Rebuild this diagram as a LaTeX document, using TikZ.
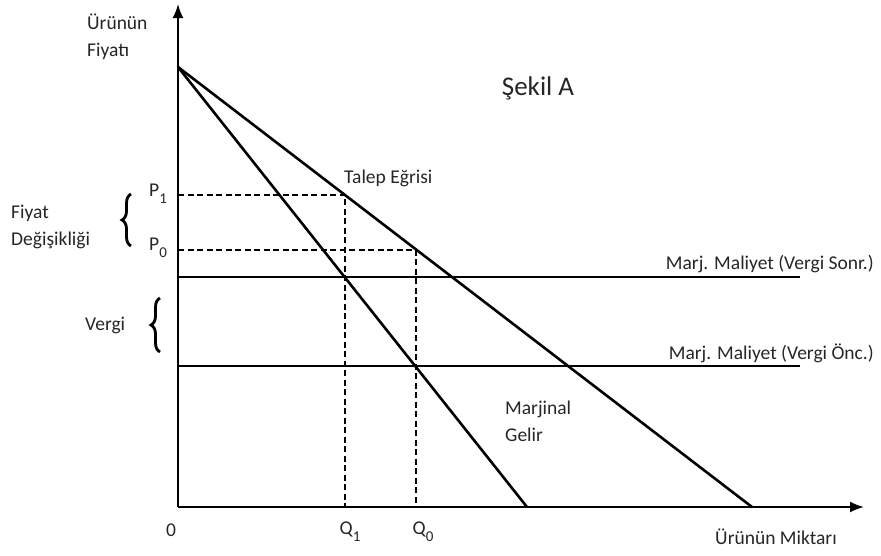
\documentclass[tikz,border=0pt]{standalone}
\usepackage{fontspec}
\setmainfont{Carlito}
\usetikzlibrary{arrows.meta,decorations.pathreplacing}
\newcommand{\sbs}[1]{\raisebox{-7pt}{\fontsize{15}{16}\selectfont #1}}
\begin{document}
\begin{tikzpicture}[x=1pt,y=-1pt,
  lbl/.style={font=\fontsize{19.5}{27}\selectfont, text=black!85, inner sep=0pt, align=left},
  curve/.style={line width=2.6pt, line cap=round},
  axis/.style={line width=2pt, -{Latex[length=14pt,width=11pt]}},
  guide/.style={line width=1.8pt, dash pattern=on 6pt off 3.5pt},
  br/.style={decorate, decoration={brace, amplitude=9pt}, line width=2.8pt}]
\useasboundingbox (0,0) rectangle (881,555);
% coordinates
\coordinate (O) at (178,507);
\coordinate (ytop) at (178,4);
\coordinate (xend) at (864,507);
\coordinate (A) at (178,67);
\coordinate (D) at (752,507);
\coordinate (M) at (527,507);
\coordinate (P1) at (178,195);
\coordinate (P0) at (178,250);
\coordinate (E1) at (345,195);
\coordinate (E0) at (416,250);
\coordinate (Q1) at (345,507);
\coordinate (Q0) at (416,507);
\coordinate (Sa) at (178,277);
\coordinate (Sb) at (800,277);
\coordinate (Ta) at (178,366);
\coordinate (Tb) at (800,366);
% axes
\draw[axis] (O) -- (ytop);
\draw[axis] (O) -- (xend);
% guides
\draw[guide] (P1) -- (E1) -- (Q1);
\draw[guide] (P0) -- (E0) -- (Q0);
% curves
\draw[curve] (A) -- (D);
\draw[curve] (A) -- (M);
\draw[line width=2.2pt] (Sa) -- (Sb);
\draw[line width=2.2pt] (Ta) -- (Tb);
% braces
\coordinate (b1a) at (131,246);
\coordinate (b1b) at (131,194);
\coordinate (b2a) at (160,352);
\coordinate (b2b) at (160,298);
\draw[br] (b1a) -- (b1b);
\draw[br] (b2a) -- (b2b);
% labels
\node[lbl, anchor=west] (yl) at (87,37) {Ürünün\\Fiyatı};
\node[lbl, anchor=center, font=\fontsize{27}{30}\selectfont] (title) at (538,88) {Şekil A};
\node[lbl, anchor=west] (talep) at (344,178) {Talep Eğrisi};
\node[lbl, anchor=west] (fd) at (11,227) {Fiyat\\Değişikliği};
\node[lbl, anchor=west] (p1) at (149,194) {P\sbs{1}};
\node[lbl, anchor=west] (p0) at (149,248) {P\sbs{0}};
\node[lbl, anchor=west] (vergi) at (85,325) {Vergi};
\node[lbl, anchor=east] (mcs) at (874,264) {Marj. Maliyet (Vergi Sonr.)};
\node[lbl, anchor=east] (mco) at (874,353) {Marj. Maliyet (Vergi Önc.)};
\node[lbl, anchor=west] (mr) at (505,421) {Marjinal\\Gelir};
\node[lbl] (zero) at (171,530) {0};
\node[lbl] (q1) at (350,532) {Q\sbs{1}};
\node[lbl] (q0) at (423,532) {Q\sbs{0}};
\node[lbl] (xl) at (776,537) {Ürünün Miktarı};
\end{tikzpicture}
\end{document}
